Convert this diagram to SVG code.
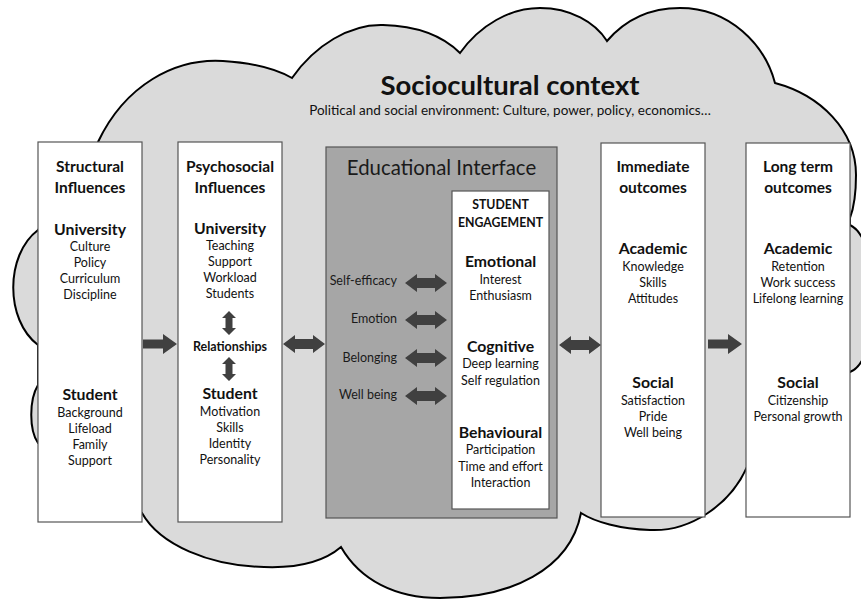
<svg xmlns="http://www.w3.org/2000/svg" width="861" height="600" viewBox="0 0 861 600">
<defs>
<style>
text{font-family:Lato,"Liberation Sans",sans-serif;fill:#111;text-anchor:middle}
.h{font-size:15.5px;font-weight:bold}
.s{font-size:15.8px;font-weight:bold}
.i{font-size:12.5px}
.r{font-size:12.5px;font-weight:bold}
.lab{font-size:12.5px;text-anchor:end;fill:#1a1a1a}
.box{fill:#fff;stroke:#555;stroke-width:1.2}
.arr{fill:#404040}
</style>
<polygon id="dh" points="-21,0 -9,-9 -9,-5 9,-5 9,-9 21,0 9,9 9,5 -9,5 -9,9"/>
<polygon id="dv" points="0,-12 7,-5 3.5,-5 3.5,5 7,5 0,12 -7,5 -3.5,5 -3.5,-5 -7,-5"/>
<polygon id="rt" points="-17,-4.5 3,-4.5 3,-10 17,0 3,10 3,4.5 -17,4.5"/>
</defs>
<g id="cloud">
<path d="M98,142 C125,85 175,58 223,61 C255,63 278,70 292,78 C315,45 350,24 383,25 C420,26 445,38 460,53 C480,25 510,8 540,8 C570,8 595,22 607,41 C625,20 650,8 680,8 C730,8 765,45 775,83 C820,95 856,130 856,175 C856,195 853,210 850,218 L850,225 C882,240 882,360 850,372 L790,420 L747,467 C730,505 690,532 650,530 C620,529 595,522 581,513 C570,570 510,598 440,598 C395,598 360,580 341,547 C320,565 290,568 264,567 C210,566 160,545 142,513 L100,480 L38,443 C29,430 29,400 38,385 L38,345 C5,320 5,255 38,230 Z" fill="#dadada" stroke="#000" stroke-width="2"/>
<text x="510" y="95" style="font-size:27.5px;font-weight:bold">Sociocultural context</text>
<text x="510" y="115" style="font-size:13.5px">Political and social environment: Culture, power, policy, economics…</text>
</g>
<g id="structural">
<rect class="box" x="38" y="142" width="104" height="380"/>
<text class="h" x="90" y="172">Structural</text>
<text class="h" x="90" y="193">Influences</text>
<text class="s" x="90" y="235">University</text>
<text class="i" x="90" y="251">Culture</text>
<text class="i" x="90" y="267">Policy</text>
<text class="i" x="90" y="283">Curriculum</text>
<text class="i" x="90" y="299">Discipline</text>
<text class="s" x="90" y="400">Student</text>
<text class="i" x="90" y="417">Background</text>
<text class="i" x="90" y="433">Lifeload</text>
<text class="i" x="90" y="449">Family</text>
<text class="i" x="90" y="465">Support</text>
</g>
<g id="psychosocial">
<rect class="box" x="178" y="142" width="104" height="380"/>
<text class="h" x="230" y="172">Psychosocial</text>
<text class="h" x="230" y="193">Influences</text>
<text class="s" x="230" y="234">University</text>
<text class="i" x="230" y="250">Teaching</text>
<text class="i" x="230" y="266">Support</text>
<text class="i" x="230" y="282">Workload</text>
<text class="i" x="230" y="298">Students</text>
<text class="r" x="230" y="351">Relationships</text>
<text class="s" x="230" y="399">Student</text>
<text class="i" x="230" y="416">Motivation</text>
<text class="i" x="230" y="432">Skills</text>
<text class="i" x="230" y="448">Identity</text>
<text class="i" x="230" y="464">Personality</text>
</g>
<g id="interface">
<rect x="326" y="147" width="231" height="371" fill="#a6a6a6" stroke="#555" stroke-width="1.2"/>
<text x="441.5" y="175" style="font-size:20.4px;fill:#1a1a1a">Educational Interface</text>
<text class="lab" x="397" y="285">Self-efficacy</text>
<text class="lab" x="397" y="323">Emotion</text>
<text class="lab" x="397" y="362">Belonging</text>
<text class="lab" x="397" y="399">Well being</text>
</g>
<g id="engagement">
<rect class="box" x="452" y="191" width="97" height="318"/>
<text class="r" x="500.5" y="209" style="font-size:12.3px">STUDENT</text>
<text class="r" x="500.5" y="227" style="font-size:12.3px">ENGAGEMENT</text>
<text class="s" x="500.5" y="267">Emotional</text>
<text class="i" x="500.5" y="284">Interest</text>
<text class="i" x="500.5" y="300">Enthusiasm</text>
<text class="s" x="500.5" y="352">Cognitive</text>
<text class="i" x="500.5" y="368">Deep learning</text>
<text class="i" x="500.5" y="385">Self regulation</text>
<text class="s" x="500.5" y="438">Behavioural</text>
<text class="i" x="500.5" y="454">Participation</text>
<text class="i" x="500.5" y="471">Time and effort</text>
<text class="i" x="500.5" y="487">Interaction</text>
</g>
<g id="immediate">
<rect class="box" x="601" y="143" width="104" height="374"/>
<text class="h" x="653" y="172">Immediate</text>
<text class="h" x="653" y="193">outcomes</text>
<text class="s" x="653" y="254">Academic</text>
<text class="i" x="653" y="271">Knowledge</text>
<text class="i" x="653" y="287">Skills</text>
<text class="i" x="653" y="303">Attitudes</text>
<text class="s" x="653" y="388">Social</text>
<text class="i" x="653" y="405">Satisfaction</text>
<text class="i" x="653" y="421">Pride</text>
<text class="i" x="653" y="437">Well being</text>
</g>
<g id="longterm">
<rect class="box" x="746" y="143" width="104" height="374"/>
<text class="h" x="798" y="172">Long term</text>
<text class="h" x="798" y="193">outcomes</text>
<text class="s" x="798" y="254">Academic</text>
<text class="i" x="798" y="271">Retention</text>
<text class="i" x="798" y="287">Work success</text>
<text class="i" x="798" y="303">Lifelong learning</text>
<text class="s" x="798" y="388">Social</text>
<text class="i" x="798" y="405">Citizenship</text>
<text class="i" x="798" y="421">Personal growth</text>
</g>
<g id="connectors" class="arr">
<use href="#rt" x="160" y="344"/>
<use href="#dh" x="304" y="344"/>
<use href="#dv" x="229" y="323"/>
<use href="#dv" x="229" y="369"/>
<use href="#dh" x="426" y="283"/>
<use href="#dh" x="426" y="320"/>
<use href="#dh" x="426" y="358"/>
<use href="#dh" x="426" y="396"/>
<use href="#dh" x="580" y="345"/>
<use href="#rt" x="725" y="344"/>
</g>
</svg>
